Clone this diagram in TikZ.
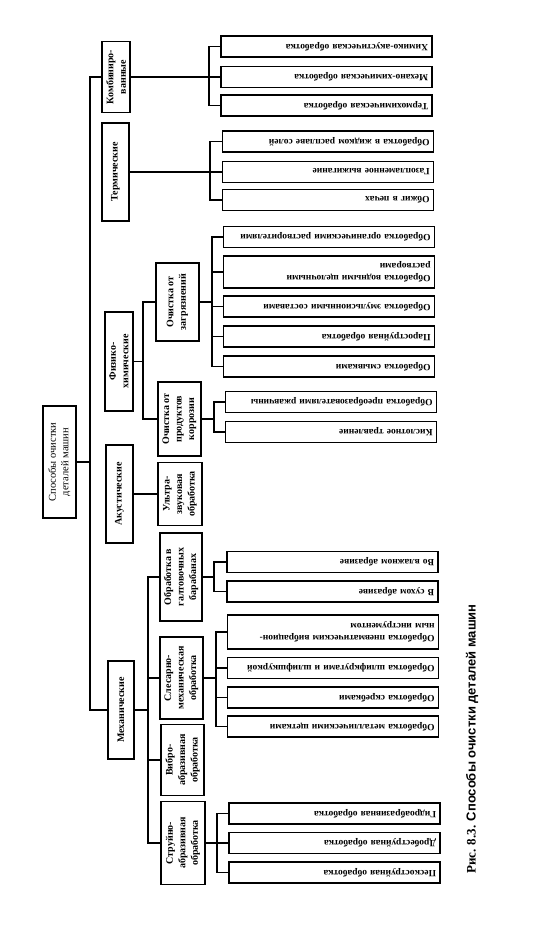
\documentclass[tikz,border=0pt]{standalone}
\usepackage{fontspec}
\setmainfont{Liberation Serif}
\newfontfamily\capsans{Liberation Sans}

\begin{document}
\begin{tikzpicture}[x=1pt,y=-1pt,
    box/.style={draw, line width=1.4pt, inner sep=1pt, align=center,
        font=\fontsize{10}{12.5}\selectfont\bfseries},
    grp/.style={box, rotate=90},
    leaf/.style={draw, line width=1.4pt, rotate=180, minimum height=21pt,
        text width=203pt, inner xsep=4pt, inner ysep=1pt, align=left,
        font=\fontsize{9.5}{12.5}\selectfont\bfseries},
    link/.style={line width=1.2pt}]
\useasboundingbox (0,0) rectangle (534,937);

% root
\node[grp, font=\fontsize{10.5}{12.5}\selectfont, minimum width=112pt, minimum height=33pt]
    (root) at (59.5,462) {Способы очистки\\деталей машин};
\coordinate (mbus) at (90,462);

% groups
\node[grp, minimum width=71pt, minimum height=28pt] (komb) at (116,77) {Комбиниро-\\ванные};
\node[grp, minimum width=98pt, minimum height=27pt] (term) at (115.5,172) {Термические};
\node[grp, minimum width=99pt, minimum height=28pt] (fiz) at (119,361.5) {Физико-\\химические};
\node[grp, minimum width=98pt, minimum height=27pt] (akust) at (119.5,494) {Акустические};
\node[grp, minimum width=98pt, minimum height=26pt] (mech) at (121,710) {Механические};

% subgroups
\node[grp, minimum width=78pt, minimum height=43pt] (zagr) at (177.5,302) {Очистка от\\загрязнений};
\node[grp, minimum width=74pt, minimum height=43pt] (korr) at (179.5,419) {Очистка от\\продуктов\\коррозии};
\node[grp, minimum width=63pt, minimum height=44pt] (ultra) at (180,494) {Ультра-\\звуковая\\обработка};
\node[grp, minimum width=88pt, minimum height=42pt] (galt) at (181,577) {Обработка в\\галтовочных\\барабанах};
\node[grp, minimum width=82pt, minimum height=43pt] (sles) at (181.5,678) {Слесарно-\\механическая\\обработка};
\node[grp, minimum width=71pt, minimum height=43pt] (vibr) at (182.5,760) {Вибро-\\абразивная\\обработка};
\node[grp, minimum width=83pt, minimum height=44pt] (strui) at (183,843) {Струйно-\\абразивная\\обработка};

% leaves: combined
\node[leaf] (k1) at (326.5,46.5) {Химико-акустическая обработка};
\node[leaf] (k2) at (326.5,77) {Механо-химическая обработка};
\node[leaf] (k3) at (326.5,105.5) {Термохимическая обработка};
% leaves: thermal
\node[leaf] (t1) at (328,141.5) {Обработка в жидком расплаве солей};
\node[leaf] (t2) at (328,172) {Газопламенное выжигание};
\node[leaf] (t3) at (328,200) {Обжиг в печах};
% leaves: dirt
\node[leaf] (z1) at (329,237) {Обработка органическими растворителями};
\node[leaf, minimum height=32pt] (z2) at (329,272) {Обработка водными щелочными\\растворами};
\node[leaf] (z3) at (329,306.5) {Обработка эмульсионными составами};
\node[leaf] (z4) at (329,336.5) {Пароструйная обработка};
\node[leaf] (z5) at (329,366.5) {Обработка смывками};
% leaves: corrosion
\node[leaf] (r1) at (331,402) {Обработка преобразователями ржавчины};
\node[leaf] (r2) at (331,432) {Кислотное травление};
% leaves: barrels
\node[leaf] (g1) at (332.5,562) {Во влажном абразиве};
\node[leaf] (g2) at (332.5,591.5) {В сухом абразиве};
% leaves: fitter work
\node[leaf, minimum height=34pt] (s1) at (333,632) {Обработка пневматическим вибрацион-\\ным инструментом};
\node[leaf] (s2) at (333,668) {Обработка шлифкругами и шлифшкуркой};
\node[leaf] (s3) at (333,697.5) {Обработка скребками};
\node[leaf] (s4) at (333,726.5) {Обработка металлическими щетками};
% leaves: jet
\node[leaf] (p1) at (334.5,813.5) {Гидроабразивная обработка};
\node[leaf] (p2) at (334.5,843) {Дробеструйная обработка};
\node[leaf] (p3) at (334.5,872.5) {Пескоструйная обработка};

% bus points
\coordinate (kbus) at (209,77);
\coordinate (tbus) at (210,172);
\coordinate (fbus) at (143,361.5);
\coordinate (zbus) at (212,302);
\coordinate (rbus) at (214,419);
\coordinate (mbus2) at (148,710);
\coordinate (gbus) at (214,577);
\coordinate (sbus) at (216,678);
\coordinate (pbus) at (217,843);

% connectors
\draw[link] (root) -- (mbus);
\draw[link] (komb) -| (mbus) |- (mech);
\draw[link] (komb) -- (k2);
\draw[link] (k1) -| (kbus) |- (k3);
\draw[link] (term) -- (t2);
\draw[link] (t1) -| (tbus) |- (t3);
\draw[link] (fiz) -- (fbus);
\draw[link] (zagr) -| (fbus) |- (korr);
\draw[link] (zagr) -- (zbus);
\draw[link] (z1) -| (zbus) |- (z5);
\draw[link] (zbus |- z2) -- (z2);
\draw[link] (zbus |- z3) -- (z3);
\draw[link] (zbus |- z4) -- (z4);
\draw[link] (korr) -- (rbus);
\draw[link] (r1) -| (rbus) |- (r2);
\draw[link] (akust) -- (ultra);
\draw[link] (mech) -- (mbus2);
\draw[link] (galt) -| (mbus2) |- (strui);
\draw[link] (mbus2 |- sles) -- (sles);
\draw[link] (mbus2 |- vibr) -- (vibr);
\draw[link] (galt) -- (gbus);
\draw[link] (g1) -| (gbus) |- (g2);
\draw[link] (sles) -- (sbus);
\draw[link] (s1) -| (sbus) |- (s4);
\draw[link] (sbus |- s2) -- (s2);
\draw[link] (sbus |- s3) -- (s3);
\draw[link] (strui) -- (p2);
\draw[link] (p1) -| (pbus) |- (p3);

% caption
\node[rotate=90, font=\fontsize{13}{15}\selectfont\bfseries] (cap) at (472,739)
    {Рис. 8.3. {\capsans Способы очистки деталей машин}};
\end{tikzpicture}
\end{document}
